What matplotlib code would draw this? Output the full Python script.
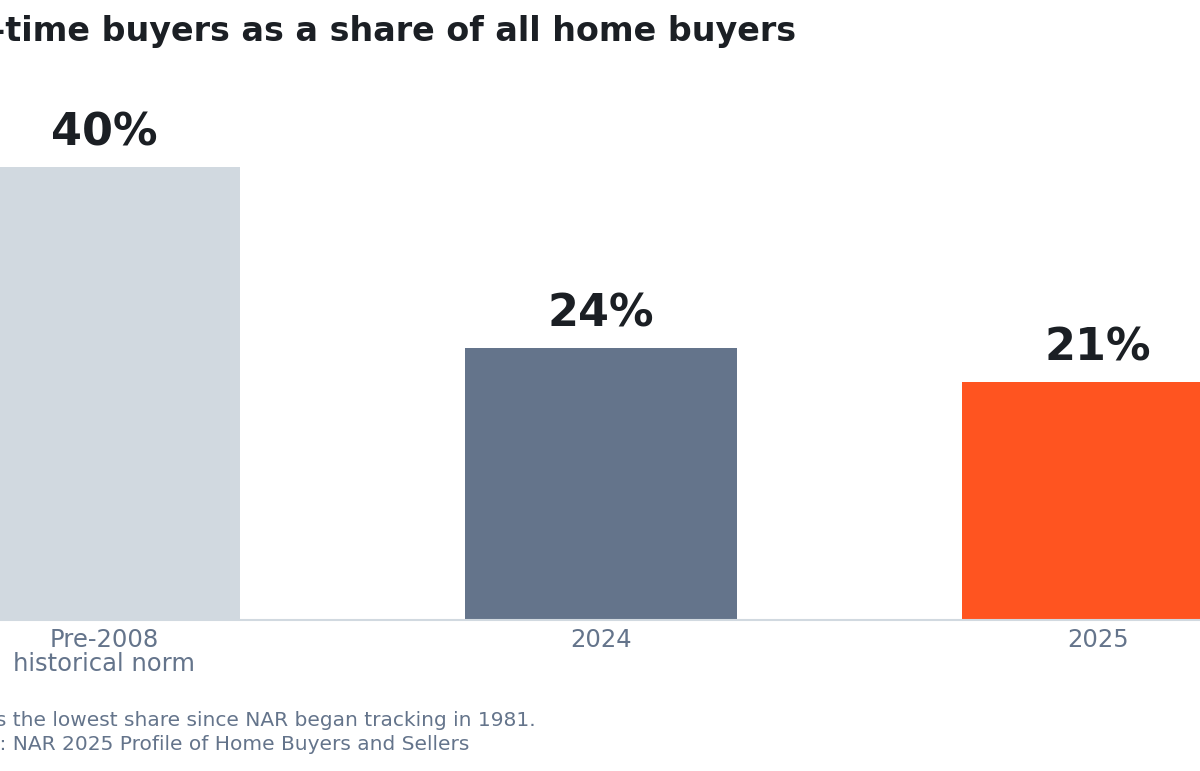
import matplotlib.pyplot as plt

categories = ["Pre-2008\nhistorical norm", "2024", "2025"]
shares = [40, 24, 21]
colors = ["#D1D9E0", "#64748B", "#FF5420"]

fig = plt.figure(figsize=(12, 7.71), dpi=100)
ax = fig.add_axes([0, 151 / 771, 1, 1 - 151 / 771])

x = range(len(categories))
ax.bar(x, shares, width=0.547, color=colors)
for xi, v in zip(x, shares):
    ax.text(xi, v + 1.1, f"{v}%", ha="center", va="bottom", fontsize=32,
            fontweight="bold", color="#1B1F24")

ax.set_xlim(-104 / 497, 2 + 102 / 497)
ax.set_ylim(0, 620 / 11.32)
ax.set_xticks(list(x))
ax.set_xticklabels(categories, fontsize=17.5, color="#64748B", linespacing=1.0)
ax.tick_params(axis="x", length=0, pad=6)
ax.set_yticks([])
for s in ["top", "left", "right"]:
    ax.spines[s].set_visible(False)
ax.spines["bottom"].set_color("#D1D9E0")
ax.spines["bottom"].set_linewidth(1.5)

fig.text(796 / 1200, 1 - 32 / 771, "First-time buyers as a share of all home buyers",
         ha="right", va="center", fontsize=24, fontweight="bold", color="#1B1F24")
fig.text(536 / 1200, 1 - 721 / 771,
         "Note: 21% is the lowest share since NAR began tracking in 1981.",
         ha="right", va="center", fontsize=14.5, color="#64748B")
fig.text(469 / 1200, 1 - 745 / 771,
         "Source: NAR 2025 Profile of Home Buyers and Sellers",
         ha="right", va="center", fontsize=14.5, color="#64748B")

fig.savefig("out.png", dpi=100)
